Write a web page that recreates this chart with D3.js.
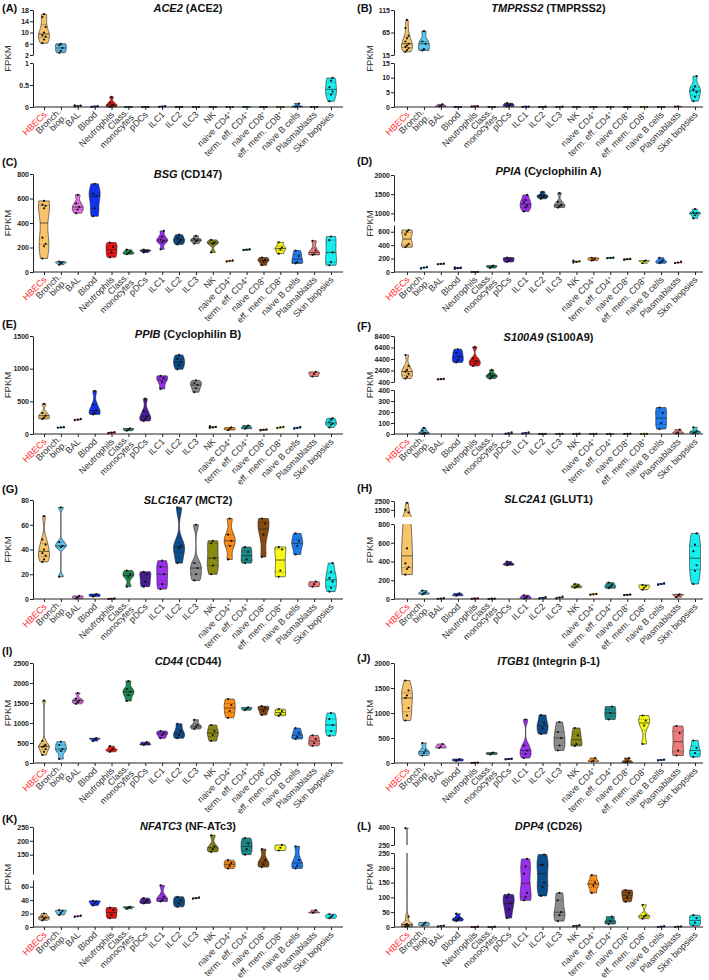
<!DOCTYPE html>
<html>
<head>
<meta charset="utf-8">
<script src="https://cdn.jsdelivr.net/npm/d3@7.9.0/dist/d3.min.js"></script>
<style>
  body { margin: 0; background: #fff; }
  svg { display: block; font-family: Arial, "Liberation Sans", sans-serif; }
</style>
</head>
<body>
<svg id="chart" width="709" height="980"></svg>
<script>
// cell types, in plotting order ("|" splits a label over two lines)
const categories = ["HBECs", "Bronch.|biop.", "BAL", "Blood", "Neutrophils", "Class.|monocytes", "pDCs",
  "ILC1", "ILC2", "ILC3", "NK", "naive CD4+", "term. eff. CD4+", "naive CD8+", "eff. mem. CD8+",
  "naive B cells", "Plasmablasts", "Skin biopsies"];
const catColors = ["#f8c46a", "#5cc6f2", "#e36fe8", "#1131f0", "#f01212", "#1a8a4e", "#4a1c9a",
  "#9a2ff0", "#0b4c8c", "#8c8c8c", "#8a8a14", "#ff8c16", "#1a8a8a", "#8a4a0e", "#f8f814",
  "#1e7cf0", "#f07a7a", "#16eef0"];

const genes = ["ACE2", "TMPRSS2", "BSG", "PPIA", "PPIB", "S100A9", "SLC16A7", "SLC2A1", "CD44", "ITGB1", "NFATC3", "DPP4"];
const proteins = ["ACE2", "TMPRSS2", "CD147", "Cyclophilin A", "Cyclophilin B", "S100A9", "MCT2", "GLUT1", "CD44", "Integrin β-1", "NF-ATc3", "CD26"];

// FPKM samples per cell type (18 lists per gene)
const ace2 = [[6.2,7.5,8.5,9,10,12,15.5,16.5],[2.8,3.5,4.5,5.5,6],[0.01,0.02,0.03,0.04],[0,0.01,0.02],[0,0.02,0.05,0.1,0.23],
  [0,0,0],[0,0,0],[0,0.01,0.02],[0,0,0],[0,0,0],[0,0,0],[0,0,0],[0,0],[0,0,0],[0,0,0],[0,0.01,0.08],[0,0,0],[0.13,0.28,0.35,0.45,0.6,0.66]];
const tmprss2 = [[22,26,30,33,36,40,45,52,58,75,93],[25,28,40,45,68],[0.2,0.4,0.9],[0,0,0],[0.1,0.2,0.3],[0,0,0],[0.2,0.5,0.9,1.3],
  [0,0.1,0.1],[0,0.1,0],[0,0.1,0],[0,0,0],[0,0,0],[0,0],[0,0,0],[0,0,0],[0,0,0],[0.1,0.2],[2,3.5,5,6,7,10.5]];
const bsg = [[110,210,230,280,520,540,550,580],[60,72,78,85],[480,510,530,560,630],[455,520,620,640,720],[120,160,205,240],
  [145,155,165,182],[160,170,175,182],[185,240,255,265,290,335],[225,245,262,280,305],[232,250,260,270,295],[160,230,240,262],
  [85,90,95],[178,182,186],[55,85,100,118],[150,185,200,242],[70,80,130,175],[140,145,175,255],[55,80,160,260,290]];
const ppia = [[370,395,420,560,600,625],[50,65,75],[115,120,125],[45,55,65,70],[0,0,1],[60,80,95],[150,170,200,215],
  [1050,1150,1200,1280,1350,1480],[1380,1420,1450,1480,1560],[1150,1180,1220,1300,1530],[140,150,160,168],[170,185,200,212],
  [205,210,215],[180,190,195],[130,160,170],[130,150,170,212],[130,140,155],[870,950,1000,1020,1110]];
const ppib = [[230,250,280,320,460],[95,100,105],[210,220,230],[300,320,360,450,660],[10,20,30],[50,70,85],[200,230,270,350,540],
  [690,800,860,890],[990,1050,1100,1150,1210],[640,700,750,780,820],[90,100,110,120],[60,80,100],[80,100,130],[55,65,70],
  [90,100,110],[80,95,110],[880,920,950],[100,140,160,180,220,240]];
const s100a9 = [[1000,1300,1800,2200,2500,3200,5100],[0,5,10,30,55],[850,900,950],[3800,4200,4800,5500,6100],[3200,3600,4000,4500,6500],
  [1000,1300,1500,1800,2500],[0,5,15],[2,8,15],[0,1,2],[0,1,2],[0,1,3],[0,1,2],[0,1],[0,2,4],[0,1,2],[45,100,190,240],[5,15,40],[5,15,25,60]];
const slc16a7 = [[30,32,35,37,40,44,48,67],[18,42,43,46,74],[0.5,1.5,2.5],[2,3,4],[0,0.2,0.5],[10,18,20,23],[10,14,20,22],
  [8,12,20,26,31],[29,41,43,74],[15,20,25,29,60],[20,27,33,45,47],[32,43,47,52,65],[29,32,38,42],[34,52,61,65],[18,23,40,42],
  [36,43,47,53],[10,12,14],[6,9,14,17,22,29]];
const slc2a1 = [[260,320,340,380,540,1200,1500,2300],[50,60,70,90],[0,5,10],[35,45,60],[0,5,8],[0,3,5],[360,370,380,400],
  [5,15,25,40],[5,10,20],[5,15,25],[120,130,140,160],[45,50,55],[115,130,150,175],[40,45,50],[100,120,140,150],[150,160,170],
  [20,40,50],[160,300,360,510,580,700]];
const cd44 = [[200,280,350,400,420,450,550,1560],[100,300,350,450,530],[1480,1520,1560,1600,1750],[550,600,620],[280,320,350,420],
  [1550,1700,1780,1850,2050],[450,480,520],[620,700,750,800],[620,700,800,980],[850,900,950,1080],[550,700,800,950],
  [1130,1300,1450,1600],[1320,1360,1390],[1200,1300,1380,1420],[1180,1220,1300,1350],[600,650,750,870],[430,500,600,690],
  [680,800,950,1100,1250]];
const itgb1 = [[850,950,1100,1300,1350,1450,1650],[150,200,250,400],[300,330,380],[40,60,80],[0,5,10],[170,190,210],[70,80,90],
  [100,180,250,350,870],[580,700,800,960],[250,350,500,620,820],[340,380,550,700],[30,50,100],[870,1000,1130],[10,30,100],
  [380,750,850,950],[50,60,70],[150,250,600,740],[120,200,300,450]];
const nfatc3 = [[10,12,14,16,20],[18,21,24,25],[15,16,17],[32,35,38,39],[13,18,25,29],[27,29,30],[35,37,40,43],[38,40,45,62],
  [30,35,40,45],[42,43,44],[160,170,180,220],[100,110,120,130],[150,170,190,210],[105,115,130,170],[165,175,185],
  [100,110,130,180],[21,22,25],[13,15,17,19]];
const dpp4 = [[1,3,5,8,10,35,390],[5,10,15],[1,3,5],[20,25,30,45],[0,0,1],[0,0,1],[30,60,80,100,110],[90,100,115,180,205,230],
  [105,135,150,210,210,245],[20,40,50,90,115],[2,4,6],[115,140,150,175],[10,20,35],[85,100,115,125],[28,35,40,75],[0,1,3],
  [0,1,2],[5,15,30,40]];

// y axes: lower segment first, upper (after the break) second
const ace2Domains = [[0,1],[2,18]],        ace2Ticks = [[0,0.5,1],[2,6,10,14,18]];
const tmprss2Domains = [[0,15],[15,115]],  tmprss2Ticks = [[0,5,10,15],[15,65,115]];
const bsgDomains = [[0,800]],              bsgTicks = [[0,200,400,600,800]];
const ppiaDomains = [[0,700],[800,2000]],  ppiaTicks = [[0,200,400,600],[1000,1500,2000]];
const ppibDomains = [[0,1500]],            ppibTicks = [[0,500,1000,1500]];
const s100a9Domains = [[0,400],[400,8400]], s100a9Ticks = [[0,100,200,300,400],[400,2400,4400,6400,8400]];
const slc16a7Domains = [[0,80]],           slc16a7Ticks = [[0,20,40,60,80]];
const slc2a1Domains = [[0,800],[700,2500]], slc2a1Ticks = [[0,200,400,600,800],[1500,2500]];
const cd44Domains = [[0,2500]],            cd44Ticks = [[0,500,1000,1500,2000,2500]];
const itgb1Domains = [[0,2000]],           itgb1Ticks = [[0,500,1000,1500,2000]];
const nfatc3Domains = [[0,70],[80,250]],   nfatc3Ticks = [[0,20,40,60],[150,200,250]];
const dpp4Domains = [[0,250],[250,400]],   dpp4Ticks = [[0,50,100,150,200,250],[250,400]];

// layout
const cols = [
  {axisX: 33, first: 44, last: 331, end: 343, fpkmX: 8, letterX: 2},
  {axisX: 394, first: 407, last: 695, end: 703, fpkmX: 370, letterX: 357}
];
const panels = [
  {letter: "A", values: ace2, domains: ace2Domains, ticks: ace2Ticks, px: [[107,63],[55,10]], letterY: 12, titleY: 12},
  {letter: "B", values: tmprss2, domains: tmprss2Domains, ticks: tmprss2Ticks, px: [[107,63],[55,10]], letterY: 12, titleY: 12},
  {letter: "C", values: bsg, domains: bsgDomains, ticks: bsgTicks, px: [[272,174]], letterY: 166, titleY: 178},
  {letter: "D", values: ppia, domains: ppiaDomains, ticks: ppiaTicks, px: [[272,225],[221,175]], letterY: 165, titleY: 175},
  {letter: "E", values: ppib, domains: ppibDomains, ticks: ppibTicks, px: [[434,336]], letterY: 328, titleY: 338},
  {letter: "F", values: s100a9, domains: s100a9Domains, ticks: s100a9Ticks, px: [[434,390],[382,336]], letterY: 330, titleY: 341},
  {letter: "G", values: slc16a7, domains: slc16a7Domains, ticks: slc16a7Ticks, px: [[599,500]], letterY: 493, titleY: 504},
  {letter: "H", values: slc2a1, domains: slc2a1Domains, ticks: slc2a1Ticks, px: [[599,524],[517,501]], letterY: 492, titleY: 503},
  {letter: "I", values: cd44, domains: cd44Domains, ticks: cd44Ticks, px: [[763,663]], letterY: 655, titleY: 665},
  {letter: "J", values: itgb1, domains: itgb1Domains, ticks: itgb1Ticks, px: [[763,663]], letterY: 662, titleY: 665},
  {letter: "K", values: nfatc3, domains: nfatc3Domains, ticks: nfatc3Ticks, px: [[927,880],[874,827]], letterY: 823, titleY: 830},
  {letter: "L", values: dpp4, domains: dpp4Domains, ticks: dpp4Ticks, px: [[927,853],[845,827]], letterY: 830, titleY: 830}
];

const svg = d3.select("#chart");
const defs = svg.append("defs");
const halfW = 5.5;

// gaussian kde with a robust silverman bandwidth
function kde(s) {
  const sd = d3.deviation(s) || 0;
  const iqr = d3.quantileSorted(s, 0.75) - d3.quantileSorted(s, 0.25);
  let spread = Math.min(sd, iqr / 1.34);
  if (!(spread > 0)) spread = sd;
  const bw = 0.9 * spread * Math.pow(s.length, -0.2);
  return v => d3.sum(s, d => Math.exp(-0.5 * ((v - d) / bw) ** 2));
}

panels.forEach((p, pi) => {
  const col = cols[pi % 2];
  const g = svg.append("g");
  const x = d3.scalePoint().domain(d3.range(categories.length)).range([col.first, col.last]);
  const zeroY = p.px[0][0];
  const nSeg = p.domains.length;

  const segs = p.domains.map((dom, k) => ({
    dom, ticks: p.ticks[k], px: p.px[k],
    y: d3.scaleLinear().domain(dom).range(p.px[k])
  }));

  segs.forEach((s, k) => {
    const id = `clip${p.letter}${k}`;
    const top = s.px[1] - (k === nSeg - 1 ? 3 : 0);
    const bot = s.px[0] + (k === 0 ? 3 : 0);
    defs.append("clipPath").attr("id", id).append("rect")
      .attr("x", col.axisX + 1).attr("y", top)
      .attr("width", col.end - col.axisX).attr("height", bot - top);

    const layer = g.append("g").attr("clip-path", `url(#${id})`);

    p.values.forEach((vals, i) => {
      const sorted = vals.slice().sort(d3.ascending);
      const lo = sorted[0], hi = sorted[sorted.length - 1];
      if (lo > s.dom[1]) return;
      if (k > 0 ? hi <= s.dom[0] : hi < s.dom[0]) return;
      const cx = x(i);
      const y = s.y;
      const span = Math.abs(y(hi) - y(lo));
      const cg = layer.append("g");
      const med = d3.quantileSorted(sorted, 0.5);

      if (span < 2) {
        cg.append("line")
          .attr("x1", cx - 4).attr("x2", cx + 4)
          .attr("y1", y(med)).attr("y2", y(med))
          .attr("stroke", catColors[i]).attr("stroke-width", 1.6);
        cg.append("line")
          .attr("x1", cx - 4).attr("x2", cx + 4)
          .attr("y1", y(med)).attr("y2", y(med))
          .attr("stroke", "#222").attr("stroke-width", 0.5);
      } else {
        const dens = kde(sorted);
        const grid = d3.range(41).map(j => lo + (hi - lo) * j / 40);
        const dmax = d3.max(grid, dens);
        const w = v => dens(v) / dmax * halfW;
        const area = d3.area()
          .y(v => y(v))
          .x0(v => cx - w(v))
          .x1(v => cx + w(v))
          .curve(d3.curveMonotoneY);
        cg.append("path")
          .attr("d", area(grid))
          .attr("fill", catColors[i])
          .attr("stroke", "#222")
          .attr("stroke-width", 0.6);

        if (span >= 6) {
          [0.25, 0.5, 0.75].forEach(q => {
            const v = d3.quantileSorted(sorted, q);
            cg.append("line")
              .attr("x1", cx - w(v)).attr("x2", cx + w(v))
              .attr("y1", y(v)).attr("y2", y(v))
              .attr("stroke", "#222")
              .attr("stroke-width", q === 0.5 ? 0.7 : 0.5)
              .attr("stroke-dasharray", q === 0.5 ? null : "1,1");
          });
        }
      }

      sorted.forEach((v, j) => {
        if (v < s.dom[0] || v > s.dom[1]) return;
        cg.append("circle")
          .attr("cx", cx + ((j % 3) - 1) * (span < 2 ? 3 : 1.6))
          .attr("cy", y(v))
          .attr("r", 1.1)
          .attr("fill", "#111");
      });
    });

    // y axis segment
    const ax = g.append("g")
      .attr("transform", `translate(${col.axisX},0)`)
      .call(d3.axisLeft(s.y).tickValues(s.ticks).tickSize(3).tickSizeOuter(0).tickFormat(d => String(d)));
    ax.select(".domain").attr("stroke", "#222");
    ax.selectAll(".tick line").attr("stroke", "#222");
    ax.selectAll(".tick text")
      .attr("x", -4)
      .attr("font-size", 7).attr("font-weight", "bold")
      .attr("font-family", "Arial, 'Liberation Sans', sans-serif")
      .attr("fill", "#222");
  });

  // x axis
  const xa = g.append("g")
    .attr("transform", `translate(0,${zeroY})`)
    .call(d3.axisBottom(x).tickSize(3).tickFormat(""));
  xa.select(".domain").attr("d", `M${col.axisX},0H${col.end}`).attr("stroke", "#222");
  xa.selectAll(".tick line").attr("stroke", "#222");

  categories.forEach((c, i) => {
    const lines = c.split("|");
    const t = g.append("g")
      .attr("transform", `translate(${x(i) + 1},${zeroY + 6}) rotate(-45)`);
    lines.forEach((ln, k) => {
      // two-line labels are centred on the tick with a tight line gap
      const off = (k - (lines.length - 1) / 2) * 0.85 + 0.35;
      const txt = t.append("text")
        .attr("text-anchor", "end")
        .attr("y", `${off}em`)
        .attr("font-size", 9)
        .attr("fill", i === 0 ? "#ff2a2a" : "#333");
      if (ln.endsWith("+")) {
        txt.append("tspan").text(ln.slice(0, -1));
        txt.append("tspan").attr("baseline-shift", "super").attr("font-size", 5.5).text("+");
      } else {
        txt.text(ln);
      }
    });
  });

  // FPKM label
  const yMid = (p.px[0][0] + p.px[nSeg - 1][1]) / 2;
  g.append("text")
    .attr("transform", `translate(${col.fpkmX},${yMid}) rotate(-90)`)
    .attr("text-anchor", "middle").attr("dy", "0.35em")
    .attr("font-size", 9.5).attr("fill", "#333")
    .text("FPKM");

  // panel letter and title
  g.append("text")
    .attr("x", col.letterX).attr("y", p.letterY)
    .attr("font-size", 11).attr("font-weight", "bold").attr("fill", "#111")
    .text(`(${p.letter})`);
  const title = g.append("text")
    .attr("x", (col.axisX + col.end) / 2).attr("y", p.titleY)
    .attr("text-anchor", "middle")
    .attr("font-size", 11).attr("font-weight", "bold").attr("fill", "#111");
  title.append("tspan").attr("font-style", "italic").text(genes[pi]);
  title.append("tspan").text(` (${proteins[pi]})`);
});
</script>
</body>
</html>
